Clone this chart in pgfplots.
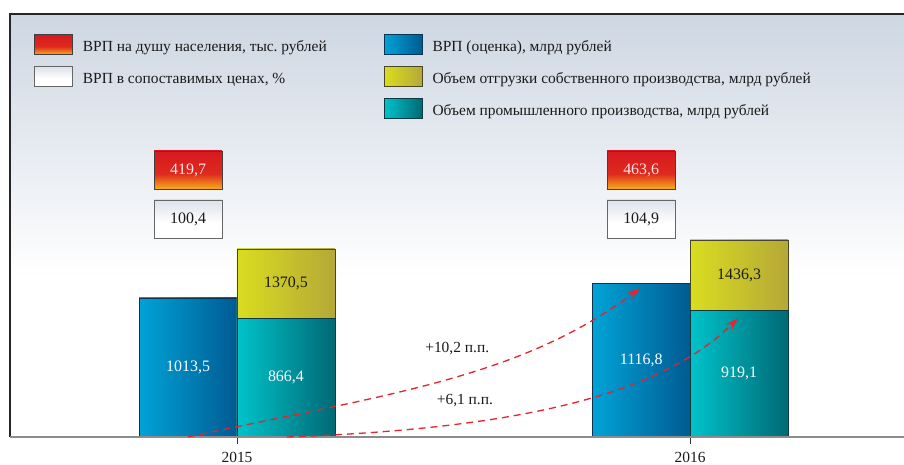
\documentclass[border=0pt]{standalone}
\usepackage{fontspec}
\setmainfont{Liberation Serif}
\usepackage{pgfplots}
\pgfplotsset{compat=1.18}
\usetikzlibrary{arrows.meta}
\frenchspacing

\definecolor{bgtop}{HTML}{CDD6E2}
\definecolor{blueL}{HTML}{00A3D7}
\definecolor{blueR}{HTML}{005B92}
\definecolor{blueD}{HTML}{0B3550}
\definecolor{yelL}{HTML}{D9DD1F}
\definecolor{yelR}{HTML}{B5A838}
\definecolor{yelD}{HTML}{4A4628}
\definecolor{cyaL}{HTML}{00C3CA}
\definecolor{cyaR}{HTML}{006975}
\definecolor{cyaD}{HTML}{0C3A40}
\definecolor{redT}{HTML}{D71920}
\definecolor{redM}{HTML}{DE2A1E}
\definecolor{redB}{HTML}{F8AD1A}
\definecolor{whT}{HTML}{DCE2EA}
\definecolor{arrowred}{HTML}{E5242B}
\definecolor{txt}{HTML}{1A1A1A}

\pgfdeclareverticalshading{bgshade}{100bp}{color(0bp)=(white); color(25bp)=(white); color(44bp)=(white); color(75bp)=(bgtop); color(100bp)=(bgtop)}
\pgfdeclareverticalshading{redshade}{100bp}{color(0bp)=(redB); color(25bp)=(redB); color(45bp)=(redM); color(75bp)=(redT); color(100bp)=(redT)}
\pgfdeclareverticalshading{whshade}{100bp}{color(0bp)=(white); color(25bp)=(white); color(45bp)=(white); color(75bp)=(whT); color(100bp)=(whT)}

\pgfplotsset{
  barbase/.style={forget plot, ybar, bar width=0.2163, bar shift=0pt, line width=0.8bp},
  bluebar/.style={barbase, draw=blueD, left color=blueL, right color=blueR},
  yelbar/.style={barbase, draw=yelD, left color=yelL, right color=yelR},
  cyabar/.style={barbase, draw=cyaD, left color=cyaL, right color=cyaR},
}

\begin{document}
\begin{tikzpicture}
\useasboundingbox (0,0) rectangle (904bp,465bp);
\begin{axis}[
  at={(10bp,28bp)}, anchor=south west,
  scale only axis, width=894bp, height=423bp,
  xmin=-0.501, xmax=1.472, ymin=0, ymax=3083,
  axis line style={draw=none},
  axis background/.style={shade, shading=bgshade},
  xtick={0,1}, xticklabels={2015,2016}, ytick=\empty,
  xtick pos=bottom, tick align=outside, major tick length=7bp,
  xtick style={draw=black!80, line width=0.8bp},
  x tick label style={font=\fontsize{15.5}{18}\selectfont, text=txt, yshift=-5bp},
  /pgf/number format/assume math mode=true,
  clip=false,
  legend columns=2,
  legend cell align=left,
  legend style={at={(0,1)}, anchor=north west, xshift=24bp, yshift=-20bp,
    draw=none, fill=none, inner sep=0pt, column sep=10bp, row sep=11.3bp,
    font=\fontsize{15.5}{18}\selectfont, text=txt, nodes={inner sep=0pt}},
]
\addlegendimage{legend image code/.code={\draw[draw=black!75, line width=0.7bp, shade, shading=redshade] (0bp,-7.7bp) rectangle (38bp,12.3bp);}}
\addlegendentry{\makebox[291bp][l]{ВРП на душу населения, тыс. рублей}}
\addlegendimage{legend image code/.code={\draw[draw=blueD, line width=0.7bp, left color=blueL, right color=blueR] (0bp,-7.7bp) rectangle (38bp,12.3bp);}}
\addlegendentry{ВРП (оценка), млрд рублей}
\addlegendimage{legend image code/.code={\draw[draw=black!60, line width=0.7bp, shade, shading=whshade] (0bp,-7.7bp) rectangle (38bp,12.3bp);}}
\addlegendentry{\makebox[291bp][l]{ВРП в сопоставимых ценах, \%}}
\addlegendimage{legend image code/.code={\draw[draw=yelD, line width=0.7bp, left color=yelL, right color=yelR] (0bp,-7.7bp) rectangle (38bp,12.3bp);}}
\addlegendentry{Объем отгрузки собственного производства, млрд рублей}
\addlegendimage{empty legend}
\addlegendentry{}
\addlegendimage{legend image code/.code={\draw[draw=cyaD, line width=0.7bp, left color=cyaL, right color=cyaR] (0bp,-7.7bp) rectangle (38bp,12.3bp);}}
\addlegendentry{Объем промышленного производства, млрд рублей}

% frame
\draw[black!85, line width=1.2bp] (rel axis cs:0,0) -- (rel axis cs:0,1) -- (rel axis cs:1,1);

% bars: GRP (estimate)
\addplot[bluebar] coordinates {(-0.108,1013.5)};
\addplot[bluebar] coordinates {(0.892,1116.8)};
% shipments of own production
\addplot[yelbar] coordinates {(0.108,1370.5)};
\addplot[yelbar] coordinates {(1.108,1436.3)};
% industrial production
\addplot[cyabar] coordinates {(0.108,866.4)};
\addplot[cyabar] coordinates {(1.108,919.1)};

\draw[black!45, line width=2bp] (rel axis cs:0,0) -- (rel axis cs:1,0);

% arrows
\draw[arrowred, line width=1.3bp, dash pattern=on 7bp off 5bp, -{Stealth[length=13bp, width=8bp]}]
  (axis cs:-0.108,0) .. controls (axis cs:0.333,313) and (axis cs:0.625,430) .. (axis cs:0.890,1086);
\draw[arrowred, line width=1.3bp, dash pattern=on 7bp off 5bp, -{Stealth[length=13bp, width=8bp]}]
  (axis cs:0.110,0) .. controls (axis cs:0.596,58) and (axis cs:0.929,284) .. (axis cs:1.106,867);
\node[font=\fontsize{15.5}{18}\selectfont, text=txt] at (axis cs:0.486,641) {+10,2 п.п.};
\node[font=\fontsize{15.5}{18}\selectfont, text=txt] at (axis cs:0.503,262) {+6,1 п.п.};

% value labels in bars (white)
\addplot[forget plot, draw=none, mark=none, nodes near coords, point meta=explicit symbolic,
  every node near coord/.append style={anchor=center, font=\fontsize{16}{18}\selectfont, text=white}]
  table[row sep=\\, meta=lab] {x y lab\\ -0.108 506.75 1013,5\\ 0.892 558.4 1116,8\\ 0.108 433.2 866,4\\ 1.108 459.6 919,1\\};
% value labels in yellow bars
\addplot[forget plot, draw=none, mark=none, nodes near coords, point meta=explicit symbolic,
  every node near coord/.append style={anchor=center, font=\fontsize{16}{18}\selectfont, text=txt}]
  table[row sep=\\, meta=lab] {x y lab\\ 0.108 1118.5 1370,5\\ 1.108 1177.7 1436,3\\};
% GRP per capita boxes
\addplot[forget plot, draw=none, mark=none, nodes near coords, point meta=explicit symbolic,
  every node near coord/.append style={anchor=center, font=\fontsize{16}{18}\selectfont, text=white!90!red,
    draw=black!75, line width=0.8bp, shade, shading=redshade, minimum width=68bp, minimum height=38bp, inner sep=0pt}]
  table[row sep=\\, meta=lab] {x y lab\\ -0.108 1946 419,7\\ 0.892 1946 463,6\\};
% GRP in comparable prices boxes
\addplot[forget plot, draw=none, mark=none, nodes near coords, point meta=explicit symbolic,
  every node near coord/.append style={anchor=center, font=\fontsize{16}{18}\selectfont, text=txt,
    draw=black!60, line width=0.8bp, shade, shading=whshade, minimum width=68bp, minimum height=38bp, inner sep=0pt}]
  table[row sep=\\, meta=lab] {x y lab\\ -0.108 1589 100,4\\ 0.892 1589 104,9\\};
\end{axis}
\end{tikzpicture}
\end{document}
